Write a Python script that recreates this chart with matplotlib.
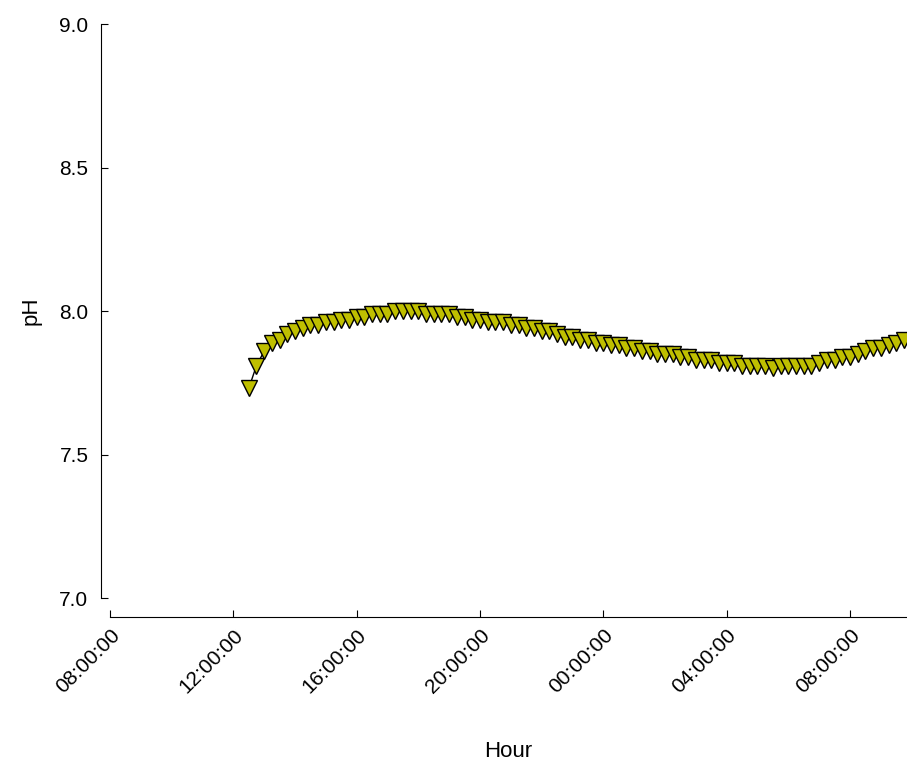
import matplotlib
matplotlib.use("Agg")
import matplotlib.pyplot as plt
import matplotlib.dates as mdates
import pandas as pd

plt.rcParams['font.family'] = ['Liberation Sans', 'DejaVu Sans']

# pH readings every 15 minutes, starting 12:30
start_time = "2021-06-01 12:30"
ph = [7.73, 7.81, 7.86, 7.89, 7.90, 7.92, 7.93, 7.94, 7.95, 7.95,
      7.96, 7.96, 7.97, 7.97, 7.98, 7.98, 7.99, 7.99, 7.99, 8.00,
      8.00, 8.00, 8.00, 7.99, 7.99, 7.99, 7.99, 7.98, 7.98, 7.97,
      7.97, 7.96, 7.96, 7.96, 7.95, 7.95, 7.94, 7.94, 7.93, 7.93,
      7.92, 7.91, 7.91, 7.90, 7.90, 7.89, 7.89, 7.88, 7.88, 7.87,
      7.87, 7.86, 7.86, 7.85, 7.85, 7.85, 7.84, 7.84, 7.83, 7.83,
      7.83, 7.82, 7.82, 7.82, 7.81, 7.81, 7.81, 7.81, 7.80, 7.81,
      7.81, 7.81, 7.81, 7.81, 7.82, 7.83, 7.83, 7.84, 7.84, 7.85,
      7.86, 7.87, 7.87, 7.88, 7.89, 7.90]
times = pd.date_range(start_time, periods=len(ph), freq="15min")

x_start = pd.Timestamp("2021-06-01 08:00")
x_end = pd.Timestamp("2021-06-02 09:51")
y_ticks = [7.0, 7.5, 8.0, 8.5, 9.0]

fig = plt.figure(figsize=(9.07, 7.65), dpi=100)
ax = fig.add_axes([0.1213, 0.2183, 0.8787, 0.7503])

ax.plot(times, ph, color='black', linewidth=1, marker='v', markersize=11,
        markerfacecolor='#bfbf00', markeredgecolor='black', markeredgewidth=1)

ax.set_xlim(x_start, x_end)
ax.set_ylim(7.0, 9.0)
ax.set_yticks(y_ticks)
ax.set_yticklabels([f"{v:.1f}" for v in y_ticks])

ax.xaxis.set_major_locator(mdates.HourLocator(byhour=[0, 4, 8, 12, 16, 20]))
ax.xaxis.set_major_formatter(mdates.DateFormatter('%H:%M:%S'))

# detached axis lines (offsets in points)
for side in ['top', 'right']:
    ax.spines[side].set_visible(False)
ax.spines['left'].set_position(('outward', 6.5))
ax.spines['bottom'].set_position(('outward', 13.7))
ax.spines['left'].set_bounds(7.0, 9.0)

ax.tick_params(axis='y', direction='in', length=5, labelsize=15, pad=9)
ax.tick_params(axis='x', direction='in', length=5, labelsize=15, pad=6)
for lbl in ax.get_xticklabels():
    lbl.set_rotation(45)
    lbl.set_ha('right')
    lbl.set_rotation_mode('anchor')

ax.set_ylabel('pH', fontsize=16, labelpad=13)
ax.set_xlabel('Hour', fontsize=16, labelpad=32)

fig.savefig('out.png', dpi=100)
